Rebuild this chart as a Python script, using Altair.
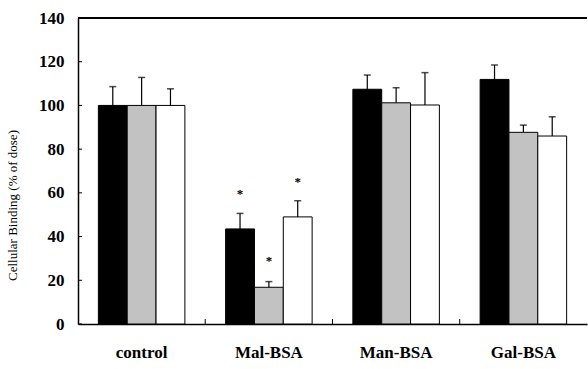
import altair as alt
import pandas as pd

# Groups on the x axis and the three treatment series
groups = ["control", "Mal-BSA", "Man-BSA", "Gal-BSA"]
series = ["s1", "s2", "s3"]
fills = ["#000000", "#c2c2c2", "#ffffff"]

# Mean binding (% of dose) per series, one value per group
mean_s1 = [100, 43.5, 107.4, 111.9]
mean_s2 = [100, 16.8, 101.2, 87.7]
mean_s3 = [100, 49.0, 100.2, 86.0]

# Upper error (SD) per series
err_s1 = [8.6, 7.1, 6.5, 6.6]
err_s2 = [12.8, 2.6, 6.9, 3.3]
err_s3 = [7.6, 7.4, 14.8, 8.8]

# Significance marks (group, series, height)
star_groups = ["Mal-BSA", "Mal-BSA", "Mal-BSA"]
star_series = ["s1", "s2", "s3"]
star_y = [59.5, 29.0, 65.0]

y_ticks = [0, 20, 40, 60, 80, 100, 120, 140]

W, H = 509, 306
FONT = "Liberation Serif"

rows = []
for s, means, errs in zip(series, [mean_s1, mean_s2, mean_s3], [err_s1, err_s2, err_s3]):
    for g, m, e in zip(groups, means, errs):
        rows.append({"group": g, "series": s, "value": m, "upper": m + e})
df = pd.DataFrame(rows)
stars = pd.DataFrame({"group": star_groups, "series": star_series, "y": star_y})
ticks = pd.DataFrame({"t": y_ticks})
bounds = pd.DataFrame({"group": groups[1:]})

x_scale = alt.Scale(domain=groups, paddingInner=0.32, paddingOuter=0.16)
xo_scale = alt.Scale(domain=series, paddingInner=0, paddingOuter=0)
y_scale = alt.Scale(domain=[0, 140], nice=False)

x_enc = alt.X(
    "group:N",
    scale=x_scale,
    sort=groups,
    axis=alt.Axis(
        title=None, labelAngle=0, ticks=False, labelPadding=20,
        labelFont=FONT, labelFontSize=17, labelFontWeight="bold", labelColor="#000",
        domainColor="#000", domainWidth=1.5,
    ),
)
xo_enc = alt.XOffset("series:N", scale=xo_scale, sort=series)
y_enc = alt.Y(
    "value:Q",
    scale=y_scale,
    axis=alt.Axis(
        values=y_ticks, ticks=False, grid=False, labelPadding=14,
        labelFont=FONT, labelFontSize=17, labelFontWeight="bold", labelColor="#000",
        domainColor="#000", domainWidth=1.5,
        title="Cellular Binding (% of dose)", titleFont=FONT, titleFontSize=13,
        titleFontWeight="normal", titleColor="#000", titleX=-66, titleY=187,
        titleAngle=-90, titleAlign="center", titleBaseline="middle",
    ),
)

base = alt.Chart(df)

bars = base.mark_bar(stroke="#000", strokeWidth=1).encode(
    x=x_enc,
    xOffset=xo_enc,
    y=y_enc,
    fill=alt.Fill("series:N", scale=alt.Scale(domain=series, range=fills), legend=None),
)

whisk = base.mark_rule(color="#000", strokeWidth=1.2).encode(
    x=alt.X("group:N", scale=x_scale, sort=groups),
    xOffset=xo_enc,
    y=alt.Y("value:Q", scale=y_scale),
    y2="upper:Q",
)

caps = base.mark_tick(color="#000", size=7, thickness=1.5, orient="horizontal").encode(
    x=alt.X("group:N", scale=x_scale, sort=groups),
    xOffset=xo_enc,
    y=alt.Y("upper:Q", scale=y_scale),
)

star_marks = alt.Chart(stars).mark_text(
    text="*", font=FONT, fontSize=13, fontWeight="bold", color="#000", baseline="middle"
).encode(
    x=alt.X("group:N", scale=x_scale, sort=groups),
    xOffset=alt.XOffset("series:N", scale=xo_scale, sort=series),
    y=alt.Y("y:Q", scale=y_scale),
)

# small inward ticks on the y axis
y_tick_marks = alt.Chart(ticks).mark_rule(color="#000", strokeWidth=1).encode(
    y=alt.Y("t:Q", scale=y_scale),
    x=alt.value(0),
    x2=alt.value(4),
)

# small inward ticks between groups on the x axis
x_tick_marks = alt.Chart(bounds).mark_rule(
    color="#000", strokeWidth=1, xOffset=-20.4
).encode(
    x=alt.X("group:N", scale=x_scale, sort=groups, bandPosition=0),
    y=alt.value(H),
    y2=alt.value(H - 5),
)

# top frame line
top_line = alt.Chart(ticks).mark_rule(color="#000", strokeWidth=1.5).encode(
    x=alt.value(0), x2=alt.value(W), y=alt.value(0)
)

chart = (
    alt.layer(bars, whisk, caps, star_marks, y_tick_marks, x_tick_marks, top_line)
    .properties(
        width=W, height=H,
        autosize=alt.AutoSizeParams(type="none"),
        padding={"left": 78, "top": 18, "right": 1, "bottom": 45},
        background="#ffffff",
    )
    .configure_view(strokeWidth=0)
)

chart.save("out.html", embed_options={"renderer": "svg", "actions": False})
